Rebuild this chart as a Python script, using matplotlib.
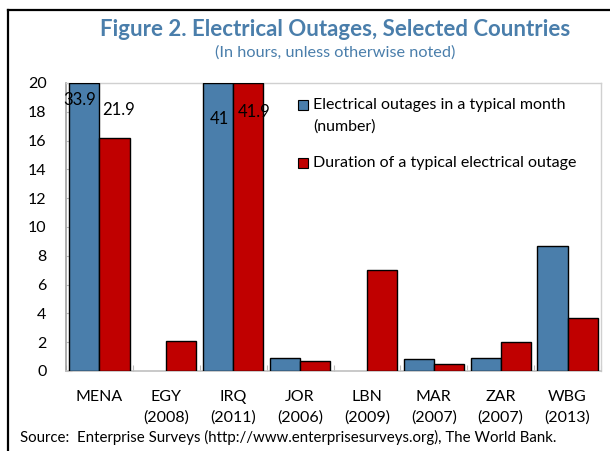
import matplotlib
matplotlib.use("Agg")
import matplotlib.pyplot as plt
from matplotlib.lines import Line2D
from matplotlib.patches import Rectangle
import numpy as np

categories = ["MENA", "EGY\n(2008)", "IRQ\n(2011)", "JOR\n(2006)", "LBN\n(2009)",
              "MAR\n(2007)", "ZAR\n(2007)", "WBG\n(2013)"]
outages_per_month = [33.9, 0.0, 41.0, 0.9, 0.0, 0.8, 0.9, 8.7]
outage_duration = [16.2, 2.1, 41.9, 0.7, 7.0, 0.5, 2.0, 3.7]
yticks = [0, 2, 4, 6, 8, 10, 12, 14, 16, 18, 20]
series_names = ["Electrical outages in a typical month\n(number)",
                "Duration of a typical electrical outage"]
# printed labels for bars that run off the scale
bar_labels = [("33.9", 0, -0.30, 18.8), ("21.9", 0, 0.28, 18.15),
              ("41", 2, -0.21, 17.5), ("41.9", 2, 0.32, 18.0)]

BLUE = "#4A7EAB"
RED = "#C00000"
TITLE = "#4A7EAB"
FONT = "Lato"
W, H = 610, 451

fig = plt.figure(figsize=(W/100, H/100), dpi=100)
# outer frame (top and left)
fig.add_artist(Line2D([8/W, 8/W], [0, 1 - 10/H], color="black", lw=1.6,
                      transform=fig.transFigure))
fig.add_artist(Line2D([8/W, 1], [1 - 10/H, 1 - 10/H], color="black", lw=1.6,
                      transform=fig.transFigure))

ax = fig.add_axes([66/W, 1 - 371/H, (601 - 66)/W, (371 - 83)/H])
x = np.arange(len(categories))
w = 0.45
ymax = 20
def edges(vals):
    return ["black" if v > 0 else "none" for v in vals]
ax.bar(x - w/2, np.minimum(outages_per_month, ymax), w, color=BLUE,
       edgecolor=edges(outages_per_month), linewidth=1.0, zorder=3)
ax.bar(x + w/2, np.minimum(outage_duration, ymax), w, color=RED,
       edgecolor=edges(outage_duration), linewidth=1.0, zorder=3)

for txt, i, dx, yv in bar_labels:
    ax.text(i + dx, yv, txt, ha="center", va="center", fontsize=12,
            family=FONT, color="black", zorder=5)

ax.set_xlim(-0.5, len(categories) - 0.5)
ax.set_ylim(0, ymax)
ax.set_yticks(yticks)
ax.set_yticklabels([str(t) for t in yticks], family=FONT, fontsize=11.5)
ax.set_xticks(np.arange(len(categories) + 1) - 0.5, minor=False)
ax.set_xticklabels([])
ax.set_xticks(x, minor=True)
ax.set_xticklabels(categories, minor=True, family=FONT, fontsize=11.5,
                   va="top", linespacing=1.5)
ax.tick_params(axis="x", which="major", direction="in", length=4, color="#BBBBBB")
ax.tick_params(axis="x", which="minor", length=0, pad=14)
ax.tick_params(axis="y", direction="in", length=4, color="#BBBBBB", pad=14)

for s in ["top", "right"]:
    ax.spines[s].set_color("#D0D0D0")
    ax.spines[s].set_linewidth(1.0)
ax.spines["left"].set_color("#A0A0A0")
ax.spines["bottom"].set_color("#C0C0C0")
ax.spines["left"].set_linewidth(1.2)
ax.spines["bottom"].set_linewidth(1.2)

# legend drawn by hand (marker aligned with first text line)
leg_rows = [(105, 127), (163, None)]
for (y1, y2), name, col in zip(leg_rows, series_names, [BLUE, RED]):
    fig.add_artist(Rectangle((298/W, 1 - (y1 + 5)/H), 10/W, 10/H,
                             facecolor=col, edgecolor="black", lw=0.8,
                             transform=fig.transFigure))
    lines = name.split("\n")
    fig.text(313/W, 1 - y1/H, lines[0], ha="left", va="center",
             family=FONT, fontsize=11.5)
    if y2 is not None:
        fig.text(313/W, 1 - y2/H, lines[1], ha="left", va="center",
                 family=FONT, fontsize=11.5)

fig.text(335/W, 1 - 30/H, "Figure 2. Electrical Outages, Selected Countries",
         ha="center", va="center", color=TITLE, fontsize=16, fontweight="bold",
         family=FONT)
fig.text(335/W, 1 - 53/H, "(In hours, unless otherwise noted)",
         ha="center", va="center", color=TITLE, fontsize=11.7, family=FONT)
fig.text(20/W, 1 - 437/H,
         "Source:  Enterprise Surveys (http://www.enterprisesurveys.org), The World Bank.",
         ha="left", va="center", fontsize=10.8, family=FONT, color="black")

fig.savefig("out.png", dpi=100)
